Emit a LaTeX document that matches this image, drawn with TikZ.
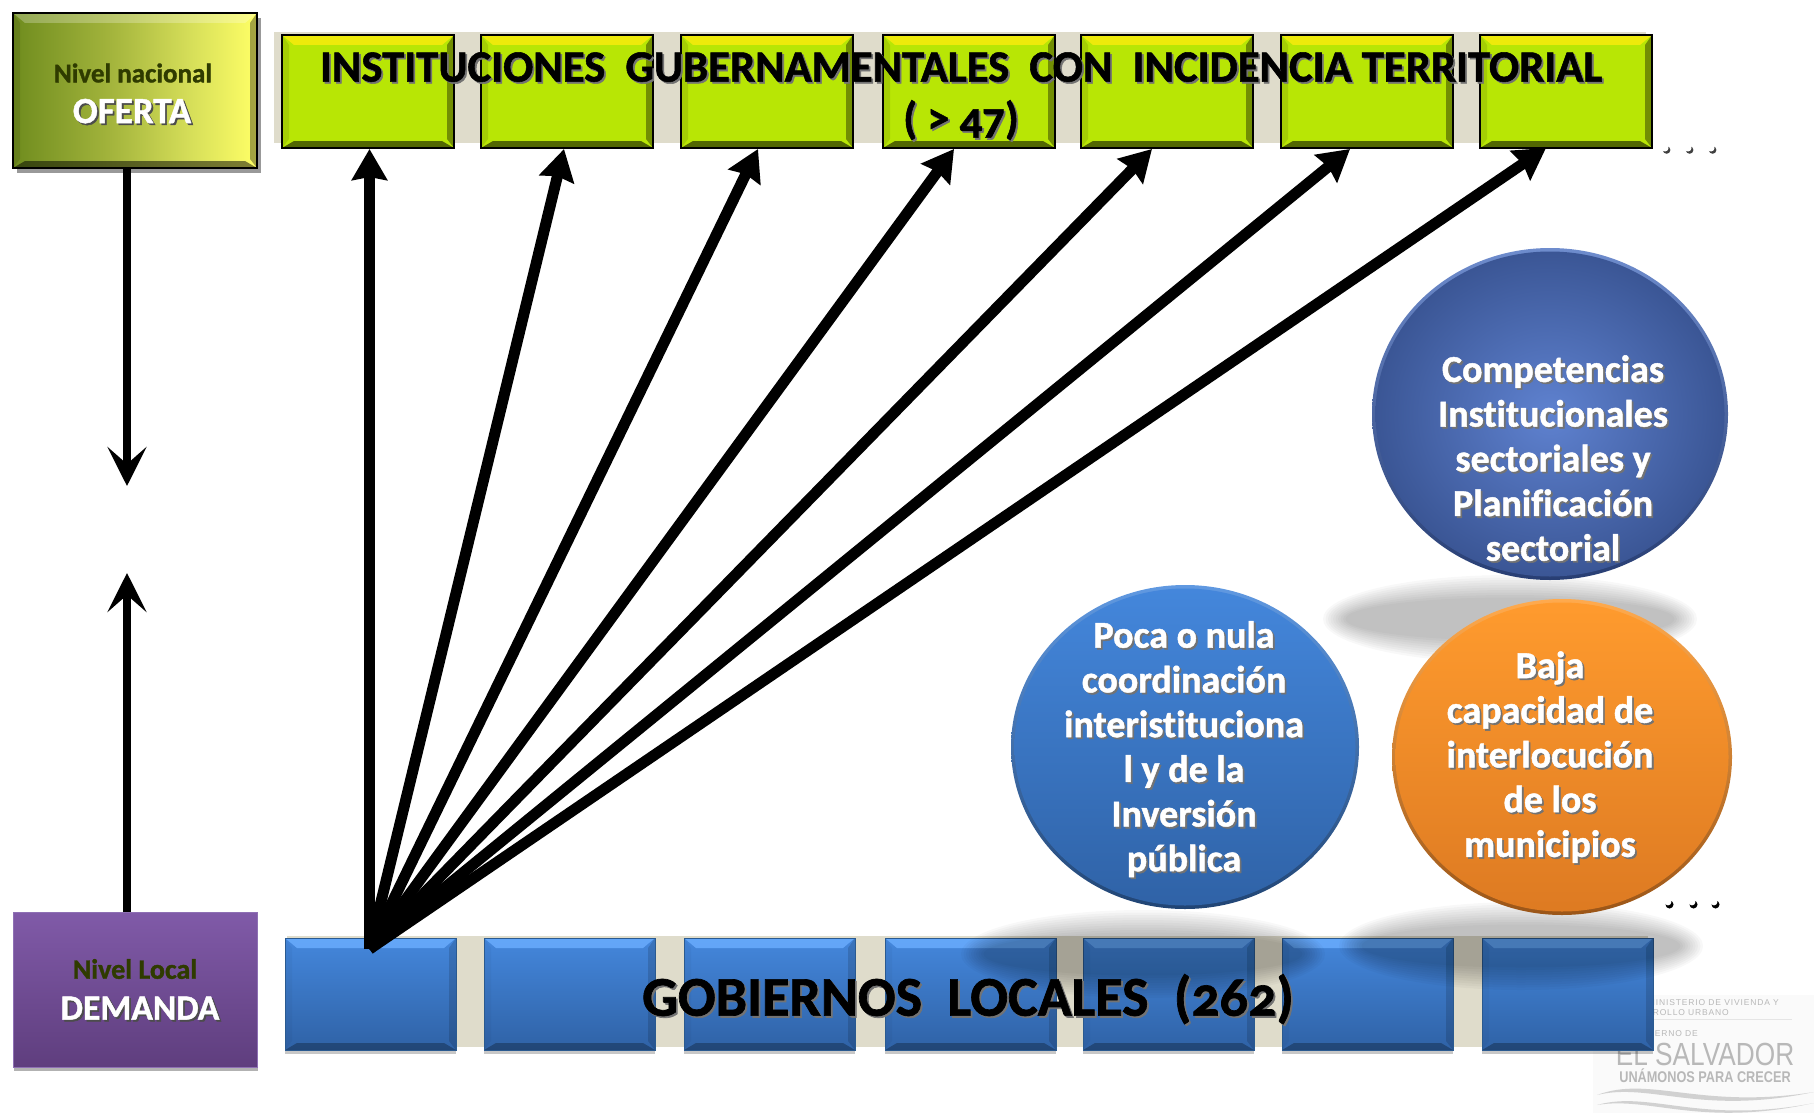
\documentclass[tikz,border=0pt]{standalone}
\usepackage{fontspec}
\setmainfont[Numbers=OldStyle,Ligatures=NoCommon,BoldFeatures={FakeBold=1.2}]{Carlito}
\newfontfamily\logofont[LetterSpace=10]{Liberation Sans}
\newfontfamily\logothin[FakeStretch=0.82]{Liberation Sans}
\usetikzlibrary{arrows.meta,calc,shapes.geometric,shadows}
\definecolor{strip}{HTML}{DFDCCB}
\definecolor{lime}{HTML}{B8E605}
\definecolor{olivetxt}{HTML}{2F3B00}
\definecolor{olA}{HTML}{6F8C1E}
\definecolor{olB}{HTML}{A3B43C}
\definecolor{olC}{HTML}{D8E05A}
\definecolor{olD}{HTML}{FFFF66}
\definecolor{blueT}{HTML}{4487DC}
\definecolor{blueB}{HTML}{2F62A6}
\definecolor{blueEdge}{HTML}{2A5A90}
\definecolor{blueHi}{HTML}{6BAEFF}
\definecolor{purT}{HTML}{805AA8}
\definecolor{purB}{HTML}{5F3E7E}
\definecolor{purEdge}{HTML}{8E70B4}
\definecolor{orT}{HTML}{FF9B2E}
\definecolor{orB}{HTML}{DD7A22}
\definecolor{navyC}{HTML}{5F82D0}
\definecolor{navyE}{HTML}{3A5594}
\definecolor{navyT}{HTML}{6E8CCD}
\definecolor{navyB}{HTML}{283E73}
\pgfdeclarehorizontalshading{olvshade}{100bp}{color(0bp)=(olA);color(25bp)=(olA);color(45bp)=(olB);color(62bp)=(olC);color(75bp)=(olD);color(100bp)=(olD)}
\newcommand\shd[2][black!55]{\leavevmode\rlap{\kern1.8pt\lower1.8pt\hbox{\color{#1}#2}}#2}
\tikzset{
  x=1pt,y=-1pt,
  bevel/.style n args={4}{path picture={
    \coordinate (nw) at (path picture bounding box.north west);
    \coordinate (ne) at (path picture bounding box.north east);
    \coordinate (sw) at (path picture bounding box.south west);
    \coordinate (se) at (path picture bounding box.south east);
    \fill[#1] (nw) -- (ne) -- ($(ne)+(-12,10)$) -- ($(nw)+(12,10)$) -- cycle;
    \fill[#2] (ne) -- (se) -- ($(se)+(-7,-9)$) -- ($(ne)+(-7,10)$) -- cycle;
    \fill[#3] (sw) -- (se) -- ($(se)+(-12,-7)$) -- ($(sw)+(12,-7)$) -- cycle;
    \fill[#4] (nw) -- (sw) -- ($(sw)+(7,-9)$) -- ($(nw)+(7,10)$) -- cycle;
  }},
  limebox/.style={draw=black,line width=2.6pt,fill=lime,minimum width=172pt,minimum height=113pt,inner sep=0pt,outer sep=0pt,anchor=north west,
    bevel={{fill=yellow!75!lime}}{{fill=black,opacity=.38}}{{fill=black,opacity=.55}}{{fill=black,opacity=.10}}},
  bluebox/.style={draw=blueEdge,line width=.5pt,top color=blueT,bottom color=blueB,minimum width=171pt,minimum height=112pt,inner sep=0pt,outer sep=0pt,anchor=north west,
    drop shadow={shadow xshift=0pt,shadow yshift=-4pt,opacity=.22,fill=black},
    bevel={{fill=blueHi,opacity=.8}}{{fill=black,opacity=.14}}{{fill=black,opacity=.28}}{{fill=black,opacity=.03}}},
  leftbox/.style={minimum width=244pt,minimum height=155pt,inner sep=0pt,outer sep=0pt,anchor=north west},
  bigarrow/.style={line width=11pt,-{Stealth[length=31pt,width=35pt,inset=3pt]}},
  sidearrow/.style={line width=8.5pt,-{Stealth[length=39pt,width=39pt,inset=17pt]}},
  heading/.style={font=\bfseries\fontsize{44.7}{50}\selectfont,text=black,inner sep=0pt,align=center},
  bubbletext/.style={font=\bfseries\fontsize{38}{44.7}\selectfont,text=white,inner sep=0pt,align=center},
  bubble/.style n args={6}{ellipse,inner sep=0pt,outer sep=0pt,top color=#1,bottom color=#2,
    path picture={\shade[top color=#3,bottom color=#4] (path picture bounding box.center) ellipse (#5 and #6);}},
  logotext/.style={text=black!28,inner sep=0pt},
}
\begin{document}
\begin{tikzpicture}
\useasboundingbox (0,0) rectangle (1814,1113);
% watermark
\fill[black!2] (1593,995) rectangle (1814,1113);
\node[logotext,anchor=east,font=\logofont\fontsize{8.5}{10}\selectfont] (l1) at (1779,1003) {MINISTERIO DE VIVIENDA Y};
\node[logotext,anchor=east,font=\logofont\fontsize{8.5}{10}\selectfont] (l2) at (1729,1013) {DESARROLLO URBANO};
\draw[black!10,line width=.7pt] (1618,1019) -- (1792,1019);
\node[logotext,anchor=east,font=\logofont\fontsize{8.5}{10}\selectfont] (l3) at (1698,1034) {GOBIERNO DE};
\node[logotext,anchor=center,font=\logothin\fontsize{32}{34}\selectfont] (l4) at (1705,1054) {EL SALVADOR};
\node[logotext,anchor=center,font=\logothin\bfseries\fontsize{15.5}{16}\selectfont] (l5) at (1705,1076) {UNÁMONOS PARA CRECER};
\fill[black!18] (1597,1095) .. controls (1650,1075) and (1700,1110) .. (1814,1092) .. controls (1700,1116) and (1650,1082) .. cycle;
\fill[black!18] (1597,1105) .. controls (1650,1090) and (1700,1125) .. (1814,1103) .. controls (1700,1128) and (1650,1096) .. cycle;
% backdrop strips
\fill[strip] (274,32) rectangle (1646,143);
\fill[strip] (287,936) rectangle (1648,1047);
% top boxes
\foreach \n/\xx in {1/282,2/481,3/681,4/883,5/1081,6/1281,7/1480}
  \node[limebox] (i\n) at (\xx,35) {};
% bottom boxes
\foreach \n/\xx in {1/285,2/484,3/684,4/885,5/1083,6/1282,7/1482}
  \node[bluebox] (g\n) at (\xx,938) {};
% left boxes
\node[leftbox,draw=black,line width=2.6pt,shading=olvshade,shading angle=0,
  drop shadow={shadow xshift=4pt,shadow yshift=-5pt,opacity=.4,fill=black},
  bevel={{fill=white,opacity=.25}}{{fill=black,opacity=.35}}{{fill=black,opacity=.5}}{{fill=black,opacity=.1}}] (nac) at (13,13) {};
\node[leftbox,draw=purEdge,line width=.6pt,
  drop shadow={shadow xshift=1pt,shadow yshift=-4pt,opacity=.3,fill=black},
  top color=purT,bottom color=purB] (loc) at (13,912) {};
% cast shadows over the lower boxes
\foreach \i in {0,...,9}{
  \fill[black,opacity=.028] (1143,954) ellipse ({182-\i*2.5} and {44-\i*2.5});
  \fill[black,opacity=.028] (1521,946) ellipse ({182-\i*2.5} and {44-\i*2.5});
}
% box labels
\node[heading] (head) at (961,68) {\shd{INSTITUCIONES\ \ GUBERNAMENTALES\ \ CON\ \ INCIDENCIA TERRITORIAL}};
\node[heading] (head2) at (961,121) {\shd{( > 47)}};
\node[heading,font=\bfseries\fontsize{56}{60}\selectfont] (gob) at (968,1000) {\shd{GOBIERNOS\ \ LOCALES\ \ (262)}};
\node[font=\bfseries\fontsize{27}{30}\selectfont,text=olivetxt,inner sep=0pt] (t1) at (133,73) {Nivel nacional};
\node[font=\bfseries\fontsize{37}{40}\selectfont,text=white,inner sep=0pt] (t2) at (132,112) {\shd[black!70]{OFERTA}};
\node[font=\bfseries\fontsize{28}{30}\selectfont,text=olivetxt,inner sep=0pt] (t3) at (135,969) {Nivel Local};
\node[font=\bfseries\fontsize{35.5}{38}\selectfont,text=white,inner sep=0pt] (t4) at (140,1009) {\shd[black!70]{DEMANDA}};
% connectors
\coordinate (o) at ($(g1.north)+(-1,11)$);
\draw[bigarrow] (o) -- ($(i1.south)+(1.5,1)$);
\draw[bigarrow] (o) -- ($(i2.south)+(-3,1)$);
\draw[bigarrow] (o) -- ($(i3.south)+(-9,1)$);
\draw[bigarrow] (o) -- ($(i4.south)+(-15,1)$);
\draw[bigarrow] (o) -- ($(i5.south)+(-15,1)$);
\draw[bigarrow] (o) -- ($(i6.south)+(-17,1)$);
\draw[bigarrow] (o) -- ($(i7.south)+(-20,0)$);
\coordinate (gapA) at (127,486);
\coordinate (gapB) at (127,573);
\draw[sidearrow] (nac.south -| gapA) -- (gapA);
\draw[sidearrow] (loc.north -| gapB) -- (gapB);
% ellipsis dots
\foreach \xx in {1665,1688,1711}{
  \fill[black!75] (\xx+1.6,150) circle (3.8);
  \fill[white] (\xx,148) circle (3.5);
}
\foreach \xx in {1668,1692,1714}{
  \fill[black] (\xx+1.5,904.5) circle (4);
  \fill[white] (\xx,902) circle (3.4);
}
% cast shadow of the top bubble
\foreach \i in {0,...,9}{
  \fill[black,opacity=.028] (1510,619) ellipse ({187-\i*2.5} and {44-\i*2.5});
}
% bubbles
\node[ellipse,minimum width=356pt,minimum height=332pt,inner sep=0pt,outer sep=0pt,
  top color=navyT,bottom color=navyB,
  path picture={\shade[inner color=navyC,outer color=navyE] (path picture bounding box.center) ellipse (174.5 and 162.5);}] (c1) at (1550,414) {};
\node[minimum width=348pt,minimum height=324pt,bubble={blueT!85!white}{blueB!70!black}{blueT}{blueB}{170.5}{158.5}] (c2) at (1185,747) {};
\node[minimum width=340pt,minimum height=316pt,bubble={orT!85!white}{orB!70!black}{orT}{orB}{166.5}{154.5}] (c3) at (1562,757) {};
\node[bubbletext] (b1) at (1553,459) {\shd{Competencias}\\\shd{Institucionales}\\\shd{sectoriales y}\\\shd{Planificación}\\\shd{sectorial}};
\node[bubbletext] (b2) at (1184,750) {\shd{Poca o nula}\\\shd{coordinación}\\\shd{interistituciona}\\\shd{l y de la}\\\shd{Inversión}\\\shd{pública}};
\node[bubbletext] (b3) at (1550,758) {\shd{Baja}\\\shd{capacidad de}\\\shd{interlocución}\\\shd{de los}\\\shd{municipios}};
\end{tikzpicture}
\end{document}
